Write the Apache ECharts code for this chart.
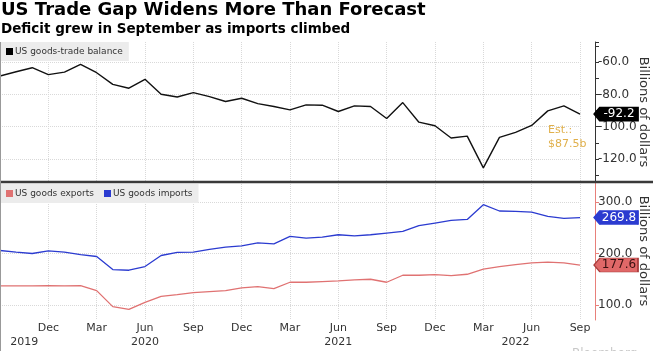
<!DOCTYPE html>
<html>
<head>
<meta charset="utf-8">
<script src="https://cdn.jsdelivr.net/npm/echarts@6/dist/echarts.min.js"></script>
<style>
html,body{margin:0;padding:0;background:#fff;}
#chart{width:653px;height:351px;}
</style>
</head>
<body>
<div id="chart"></div>
<script>
// monthly, Sep 2019 - Sep 2022
var months = ['2019-09','2019-10','2019-11','2019-12',
  '2020-01','2020-02','2020-03','2020-04','2020-05','2020-06','2020-07','2020-08','2020-09','2020-10','2020-11','2020-12',
  '2021-01','2021-02','2021-03','2021-04','2021-05','2021-06','2021-07','2021-08','2021-09','2021-10','2021-11','2021-12',
  '2022-01','2022-02','2022-03','2022-04','2022-05','2022-06','2022-07','2022-08','2022-09'];
var monthNames = {'03':'Mar','06':'Jun','09':'Sep','12':'Dec'};
var yearLabels = ['2019','2020','2021','2022'];
var yearPos = [1.5, 9, 21, 32];

var balance = [-68.6,-66.0,-63.5,-67.8,-66.2,-61.4,-66.6,-73.8,-76.2,-70.7,-79.9,-81.6,-78.9,-81.4,-84.4,-82.4,
  -85.7,-87.5,-89.6,-86.5,-86.7,-90.6,-87.1,-87.5,-94.9,-85.1,-97.2,-99.4,-107.0,-105.8,-125.5,-106.6,-103.5,-99.2,-90.2,-87.1,-92.2];
var goodsExports = [137.0,137.0,137.0,137.7,137.0,137.7,127.9,96.8,91.6,105.2,116.9,120.1,124.0,126.0,127.9,133.1,
  135.7,131.8,144.2,144.2,145.5,146.8,148.7,150.0,144.2,157.8,157.8,159.1,157.1,159.7,169.5,174.7,178.6,181.8,183.1,181.8,177.6];
var goodsImports = [205.8,202.6,200.0,205.2,202.6,198.0,194.2,168.8,167.5,174.7,196.1,202.0,202.6,207.8,212.3,214.9,
  220.8,218.8,233.1,229.9,231.8,236.4,234.4,236.4,239.6,242.9,253.9,259.1,264.3,266.2,294.8,282.5,281.8,280.5,272.1,268.2,269.8];
var estimate = -87.5;

var font = 'DejaVu Sans';
var gridColor = '#d9d9d9';
var last = months.length - 1;

function isQuarter(i) { return monthNames[months[i].slice(5)] !== undefined; }

function tagItem(value, fill, text, border) {
  return {
    coord: [last, value], value: value,
    symbol: 'path://M0,7L6,0L44,0L44,14L6,14Z',
    symbolSize: [44, 14], symbolKeepAspect: false, symbolOffset: [36, 0],
    itemStyle: {color: fill, borderColor: border, borderWidth: 1},
    label: {show: true, position: 'inside', offset: [3, 0], color: text, fontFamily: font, fontSize: 12,
      formatter: function (p) { return p.value.toFixed(1); }}
  };
}

var legendStyle = {
  left: 0, icon: 'rect', itemWidth: 7, itemHeight: 7, itemGap: 10,
  backgroundColor: '#ececec', padding: [5, 6, 5, 6], borderRadius: 0,
  textStyle: {fontFamily: font, fontSize: 9, color: '#333', padding: [0, 0, 0, -3]}
};

var myChart = echarts.init(document.getElementById('chart'));
var option = {
  animation: false,
  title: [
    {text: 'US Trade Gap Widens More Than Forecast', left: 1, top: 1, padding: 0,
      textStyle: {fontFamily: font, fontWeight: 'bold', fontSize: 18, color: '#000'}},
    {text: 'Deficit grew in September as imports climbed', left: 1, top: 22, padding: 0,
      textStyle: {fontFamily: font, fontWeight: 'bold', fontSize: 13.5, color: '#000'}}
  ],
  legend: [
    Object.assign({top: 42, data: ['US goods-trade balance']}, legendStyle),
    Object.assign({top: 184, data: ['US goods exports', 'US goods imports']}, legendStyle)
  ],
  grid: [
    {left: 0, right: 73, top: 42, bottom: 169, outerBoundsMode: 'none'},
    {left: 0, right: 73, top: 182, bottom: 31, outerBoundsMode: 'none'}
  ],
  xAxis: [
    {gridIndex: 0, type: 'category', data: months, boundaryGap: false,
      axisLine: {show: false}, axisTick: {show: false}, axisLabel: {show: false},
      splitLine: {show: true, interval: function (i) { return isQuarter(i); }, lineStyle: {color: gridColor, type: 'dotted'}}},
    {gridIndex: 1, type: 'category', data: months, boundaryGap: false,
      axisLine: {show: false}, axisTick: {show: false},
      axisLabel: {interval: function (i) { return i > 0 && isQuarter(i); }, margin: 3, color: '#333', fontFamily: font, fontSize: 11,
        formatter: function (v) { return monthNames[v.slice(5)] || ''; }},
      splitLine: {show: true, interval: function (i) { return isQuarter(i); }, lineStyle: {color: gridColor, type: 'dotted'}}},
    {gridIndex: 1, type: 'value', min: 0, max: last, position: 'bottom', offset: 14,
      axisLine: {show: false}, axisTick: {show: false}, splitLine: {show: false},
      axisLabel: {customValues: yearPos, margin: 3, color: '#333', fontFamily: font, fontSize: 11,
        formatter: function (v) { var k = yearPos.indexOf(v); return k < 0 ? '' : yearLabels[k]; }}}
  ],
  yAxis: [
    {gridIndex: 0, type: 'value', position: 'right', offset: 15, min: -134.2, max: -47.6, splitNumber: 4,
      axisLine: {show: true, onZero: false, lineStyle: {color: '#333'}},
      axisTick: {show: true, length: 4, lineStyle: {color: '#333'}},
      minorTick: {show: true, splitNumber: 2, length: 4, lineStyle: {color: '#333'}},
      axisLabel: {showMinLabel: false, showMaxLabel: false, margin: 3, color: '#333', fontFamily: font, fontSize: 12,
        formatter: function (v) { return v.toFixed(1); }},
      splitLine: {show: true, showMinLine: false, showMaxLine: false, lineStyle: {color: gridColor, type: 'dotted'}},
      name: 'Billions of dollars', nameLocation: 'middle', nameRotate: -90, nameGap: 42, nameMoveOverlap: false,
      nameTextStyle: {fontFamily: font, fontSize: 13, color: '#333'}},
    {gridIndex: 1, type: 'value', position: 'right', offset: 15, min: 70.9, max: 338.8, splitNumber: 3,
      axisLine: {show: true, onZero: false, lineStyle: {color: '#e8807a'}},
      axisTick: {show: true, length: 4, lineStyle: {color: '#e8807a'}},
      axisLabel: {showMinLabel: false, showMaxLabel: false, margin: 3, color: '#333', fontFamily: font, fontSize: 12,
        formatter: function (v) { return v.toFixed(1); }},
      splitLine: {show: true, showMinLine: false, showMaxLine: false, lineStyle: {color: gridColor, type: 'dotted'}},
      name: 'Billions of dollars', nameLocation: 'middle', nameRotate: -90, nameGap: 42, nameMoveOverlap: false,
      nameTextStyle: {fontFamily: font, fontSize: 13, color: '#333'}}
  ],
  series: [
    {name: 'US goods-trade balance', type: 'line', xAxisIndex: 0, yAxisIndex: 0, data: balance,
      symbol: 'none', lineStyle: {color: '#111', width: 1.4}, itemStyle: {color: '#000'},
      markPoint: {silent: true, data: [
        tagItem(balance[last], '#000', '#fff', '#000'),
        {coord: [last, estimate], value: estimate, symbol: 'circle', symbolSize: 0,
          label: {show: true, position: 'inside', align: 'left', offset: [-32, 31], lineHeight: 14,
            color: '#e0b04c', fontFamily: font, fontSize: 11, formatter: 'Est.:\n$87.5b'}}
      ]}},
    {name: 'US goods exports', type: 'line', xAxisIndex: 1, yAxisIndex: 1, data: goodsExports,
      symbol: 'none', lineStyle: {color: '#e07272', width: 1.3}, itemStyle: {color: '#e07272'},
      markPoint: {silent: true, data: [tagItem(goodsExports[last], '#e06868', '#3a1010', '#a83c3c')]}},
    {name: 'US goods imports', type: 'line', xAxisIndex: 1, yAxisIndex: 1, data: goodsImports,
      symbol: 'none', lineStyle: {color: '#2b3bd0', width: 1.3}, itemStyle: {color: '#2b3bd0'},
      markPoint: {silent: true, data: [tagItem(goodsImports[last], '#2b3bd0', '#fff', '#2b3bd0')]}}
  ],
  graphic: [
    {type: 'line', shape: {x1: 0, y1: 182, x2: 653, y2: 182}, style: {stroke: '#3a3a3a', lineWidth: 2.5}, z: 10},
    {type: 'line', shape: {x1: 0.5, y1: 42, x2: 0.5, y2: 351}, style: {stroke: '#999', lineWidth: 1}, z: 10},
    {type: 'text', left: 572, top: 348, style: {text: 'Bloomberg', fill: '#c8c8c8', font: '12px ' + font}}
  ]
};
myChart.setOption(option);
</script>
</body>
</html>
